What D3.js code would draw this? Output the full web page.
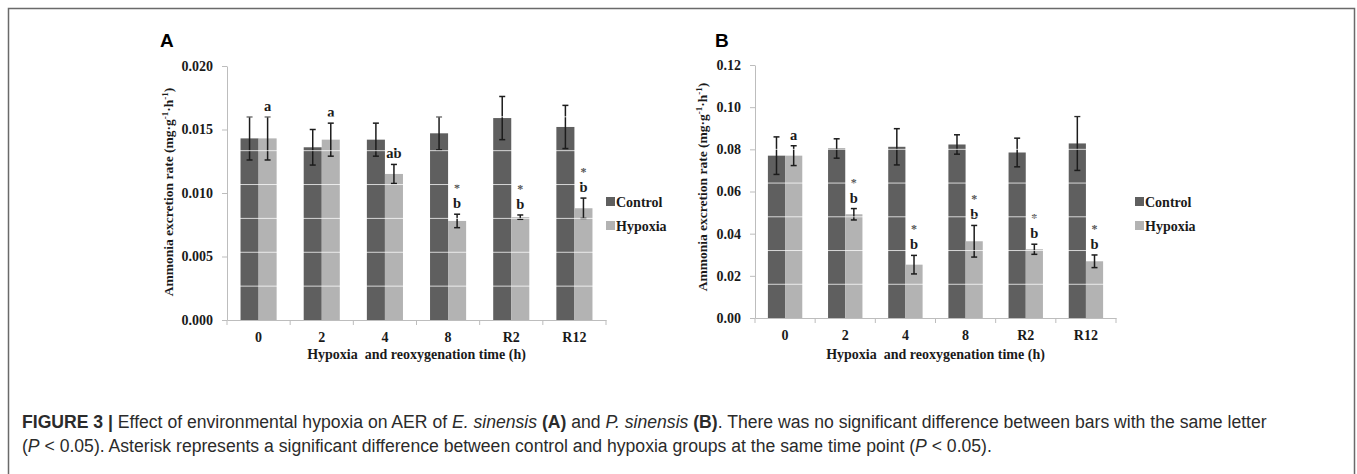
<!DOCTYPE html>
<html>
<head>
<meta charset="utf-8">
<script src="https://cdn.jsdelivr.net/npm/d3@7"></script>
<style>
  body { margin: 0; background: #fff; }
  svg { display: block; }
  .serif { font-family: "Liberation Serif", "Times New Roman", serif; font-weight: bold; }
  .caption { font-family: "Liberation Sans", Arial, sans-serif; fill: #2b2b2b; }
</style>
</head>
<body>
<div id="chart"></div>
<script>
// ----------------- DATA -----------------
const categories = ["0", "2", "4", "8", "R2", "R12"];
const seriesNames = ["Control", "Hypoxia"];

// panel A: E. sinensis
const controlA    = [0.0143, 0.0136, 0.0142, 0.0147, 0.0159, 0.0152];
const controlAErr = [0.0017, 0.0014, 0.0013, 0.0013, 0.0017, 0.0017];
const hypoxiaA    = [0.0143, 0.0142, 0.0115, 0.0078, 0.0081, 0.0088];
const hypoxiaAErr = [0.0017, 0.0013, 0.00075, 0.00053, 0.00017, 0.0008];
const lettersA = ["a", "a", "ab", "b", "b", "b"];
const starsA   = [false, false, false, true, true, true];
const yTicksA  = [0, 0.005, 0.010, 0.015, 0.020];

// panel B: P. sinensis
const controlB    = [0.077, 0.0804, 0.0812, 0.0823, 0.0785, 0.0828];
const controlBErr = [0.0089, 0.0046, 0.0086, 0.0046, 0.0068, 0.0128];
const hypoxiaB    = [0.077, 0.0492, 0.0253, 0.0364, 0.0326, 0.0269];
const hypoxiaBErr = [0.0047, 0.0027, 0.0044, 0.0075, 0.0024, 0.0030];
const lettersB = ["a", "b", "b", "b", "b", "b"];
const starsB   = [false, true, true, true, true, true];
const yTicksB  = [0, 0.02, 0.04, 0.06, 0.08, 0.10, 0.12];

const colors = { Control: "#5f5f5f", Hypoxia: "#b3b3b3" };

const svg = d3.select("#chart").append("svg")
    .attr("width", 1357)
    .attr("height", 474);

// outer frame
svg.append("rect")
    .attr("x", 8.5).attr("y", 8.5)
    .attr("width", 1346).attr("height", 520)
    .attr("fill", "none")
    .attr("stroke", "#6a6a6a")
    .attr("stroke-width", 1.5);

drawPanel({
    letter: "A", letterX: 160,
    left: 227, right: 606, top: 66, bottom: 320,
    yMax: 0.02, yTicks: yTicksA, fmt: d3.format(".3f"),
    control: controlA, controlErr: controlAErr,
    hypoxia: hypoxiaA, hypoxiaErr: hypoxiaAErr,
    letters: lettersA, stars: starsA,
    titleX: 173, titleY: 192, legendX: 606
});

drawPanel({
    letter: "B", letterX: 715,
    left: 755, right: 1116, top: 65, bottom: 318,
    yMax: 0.12, yTicks: yTicksB, fmt: d3.format(".2f"),
    control: controlB, controlErr: controlBErr,
    hypoxia: hypoxiaB, hypoxiaErr: hypoxiaBErr,
    letters: lettersB, stars: starsB,
    titleX: 707, titleY: 187, legendX: 1135
});

drawCaption();


// ----------------- FUNCTIONS -----------------

function drawPanel(p) {
    const g = svg.append("g");

    const x0 = d3.scaleBand().domain(categories).range([p.left, p.right]);
    const x1 = d3.scaleBand().domain(seriesNames)
        .range([0, x0.bandwidth()]).paddingOuter(0.75);
    const y = d3.scaleLinear().domain([0, p.yMax]).range([p.bottom, p.top]);

    // panel letter
    g.append("text")
        .attr("x", p.letterX).attr("y", 47)
        .attr("font-family", "Liberation Sans, Arial, sans-serif")
        .attr("font-weight", "bold")
        .attr("font-size", 19)
        .text(p.letter);

    // y axis
    const yAxis = g.append("g")
        .attr("transform", `translate(${p.left},0)`)
        .call(d3.axisLeft(y).tickValues(p.yTicks).tickFormat(p.fmt).tickSize(5).tickSizeOuter(0).tickPadding(9));
    yAxis.select(".domain").attr("stroke", "#bdbdbd");
    yAxis.selectAll(".tick line").attr("stroke", "#bdbdbd");
    yAxis.selectAll(".tick text")
        .attr("class", "serif")
        .attr("font-size", 14)
        .attr("fill", "#1a1a1a");

    // rows of values for each category
    const rows = categories.map((c, i) => ({
        cat: c,
        bars: [
            { name: "Control", v: p.control[i], e: p.controlErr[i] },
            { name: "Hypoxia", v: p.hypoxia[i], e: p.hypoxiaErr[i] }
        ],
        letter: p.letters[i],
        star: p.stars[i]
    }));

    const groups = g.selectAll("g.cat")
        .data(rows)
        .join("g")
        .attr("class", "cat")
        .attr("transform", d => `translate(${x0(d.cat)},0)`);

    groups.selectAll("rect")
        .data(d => d.bars)
        .join("rect")
        .attr("x", d => x1(d.name))
        .attr("y", d => y(d.v))
        .attr("width", x1.bandwidth())
        .attr("height", d => y(0) - y(d.v))
        .attr("fill", d => colors[d.name]);

    // white grid lines over the bars
    const gridStep = p.yMax / 7.5;
    const gridVals = d3.range(1, 8).map(k => k * gridStep);
    g.append("g")
        .selectAll("line")
        .data(gridVals)
        .join("line")
        .attr("x1", p.left + 1).attr("x2", p.right)
        .attr("y1", d => y(d)).attr("y2", d => y(d))
        .attr("stroke", "#fff")
        .attr("stroke-opacity", 0.75)
        .attr("stroke-width", 1);

    // error bars
    const err = groups.selectAll("g.err")
        .data(d => d.bars)
        .join("g")
        .attr("class", "err")
        .attr("stroke", "#1c1c1c")
        .attr("stroke-width", 1.5);
    const cx = d => x1(d.name) + x1.bandwidth() / 2;
    err.append("line")
        .attr("x1", cx).attr("x2", cx)
        .attr("y1", d => y(d.v - d.e)).attr("y2", d => y(d.v + d.e));
    [d => d.v - d.e, d => d.v + d.e].forEach(f => {
        err.append("line")
            .attr("x1", d => cx(d) - 3).attr("x2", d => cx(d) + 3)
            .attr("y1", d => y(f(d))).attr("y2", d => y(f(d)));
    });

    // significance letters and asterisks (above hypoxia bar)
    const hx = x1("Hypoxia") + x1.bandwidth() / 2;
    groups.append("text")
        .attr("class", "serif")
        .attr("x", hx)
        .attr("y", d => y(d.bars[1].v + d.bars[1].e) - 6)
        .attr("text-anchor", "middle")
        .attr("font-size", 14.5)
        .attr("fill", "#1a1a1a")
        .text(d => d.letter);
    groups.filter(d => d.star).append("text")
        .attr("class", "serif")
        .attr("x", hx)
        .attr("y", d => y(d.bars[1].v + d.bars[1].e) - 22)
        .attr("text-anchor", "middle")
        .attr("font-size", 12)
        .attr("fill", "#555")
        .text("*");

    // x axis
    const xAxis = g.append("g")
        .attr("transform", `translate(0,${p.bottom})`)
        .call(d3.axisBottom(x0).tickSize(0).tickPadding(12));
    xAxis.select(".domain").attr("stroke", "#bdbdbd");
    xAxis.selectAll(".tick text")
        .attr("class", "serif")
        .attr("font-size", 14)
        .attr("fill", "#1a1a1a");
    // tick marks at category boundaries
    const bounds = categories.map(c => x0(c)).concat([p.right]);
    xAxis.selectAll("line.bound")
        .data(bounds)
        .join("line")
        .attr("class", "bound")
        .attr("x1", d => d).attr("x2", d => d)
        .attr("y1", 0).attr("y2", 5)
        .attr("stroke", "#bdbdbd");

    // axis titles
    g.append("text")
        .attr("class", "serif")
        .attr("x", (p.left + p.right) / 2)
        .attr("y", 359)
        .attr("text-anchor", "middle")
        .attr("font-size", 14)
        .attr("fill", "#1a1a1a")
        .style("white-space", "pre")
        .text("Hypoxia  and reoxygenation time (h)");

    const yt = g.append("text")
        .attr("class", "serif")
        .attr("transform", `translate(${p.titleX},${p.titleY}) rotate(-90)`)
        .attr("text-anchor", "middle")
        .attr("font-size", 13.5)
        .attr("fill", "#1a1a1a");
    yt.append("tspan").text("Ammonia excretion rate (mg·g");
    yt.append("tspan").attr("dy", -5).attr("font-size", 9).text("-1");
    yt.append("tspan").attr("dy", 5).text("·h");
    yt.append("tspan").attr("dy", -5).attr("font-size", 9).text("-1");
    yt.append("tspan").attr("dy", 5).text(")");

    // legend
    const leg = g.selectAll("g.legend")
        .data(seriesNames)
        .join("g")
        .attr("class", "legend")
        .attr("transform", (d, i) => `translate(${p.legendX},${202 + i * 24})`);
    leg.append("rect")
        .attr("x", 0).attr("y", -5)
        .attr("width", 9).attr("height", 9)
        .attr("fill", d => colors[d]);
    leg.append("text")
        .attr("class", "serif")
        .attr("x", 10).attr("y", 5)
        .attr("font-size", 14)
        .attr("fill", "#1a1a1a")
        .text(d => d);
}

function drawCaption() {
    const lines = [
        [
            { t: "FIGURE 3 |", w: "bold" },
            { t: " Effect of environmental hypoxia on AER of " },
            { t: "E. sinensis", s: "italic" },
            { t: " " },
            { t: "(A)", w: "bold" },
            { t: " and " },
            { t: "P. sinensis", s: "italic" },
            { t: " " },
            { t: "(B)", w: "bold" },
            { t: ". There was no significant difference between bars with the same letter" }
        ],
        [
            { t: "(" },
            { t: "P", s: "italic" },
            { t: " < 0.05). Asterisk represents a significant difference between control and hypoxia groups at the same time point (" },
            { t: "P", s: "italic" },
            { t: " < 0.05)." }
        ]
    ];

    lines.forEach((parts, i) => {
        const txt = svg.append("text")
            .attr("class", "caption")
            .attr("x", 22)
            .attr("y", 428 + i * 24)
            .attr("font-size", 17.6)
            .style("white-space", "pre");
        txt.selectAll("tspan")
            .data(parts)
            .join("tspan")
            .attr("font-weight", d => d.w || null)
            .attr("font-style", d => d.s || null)
            .text(d => d.t);
    });
}
</script>
</body>
</html>
